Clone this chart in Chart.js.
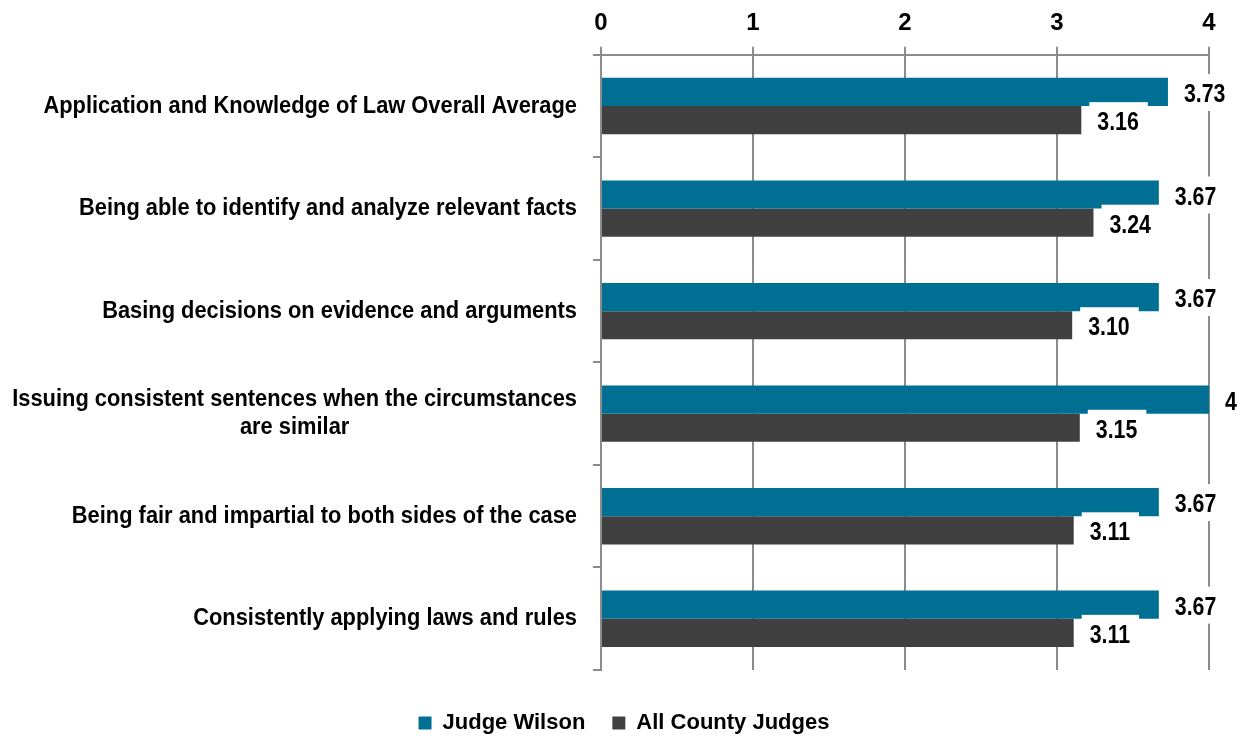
<!DOCTYPE html>
<html>
<head>
<meta charset="utf-8">
<script src="https://cdn.jsdelivr.net/npm/chart.js@4.4.0/dist/chart.umd.min.js"></script>
<style>
    html, body { margin: 0; padding: 0; background: #fff; }
    #wrap { width: 1242px; height: 738px; position: relative; }
</style>
</head>
<body>
<div id="wrap"><canvas id="judgeChart"></canvas></div>
<script>
const categories = [
    'Application and Knowledge of Law Overall Average',
    'Being able to identify and analyze relevant facts',
    'Basing decisions on evidence and arguments',
    ['Issuing consistent sentences when the circumstances', 'are similar'],
    'Being fair and impartial to both sides of the case',
    'Consistently applying laws and rules'
];
const seriesNames = ['Judge Wilson', 'All County Judges'];
const wilsonScores = [3.73, 3.67, 3.67, 4, 3.67, 3.67];
const countyScores = [3.16, 3.24, 3.10, 3.15, 3.11, 3.11];
const xMin = 0;
const xMax = 4;

const FONT = "'Liberation Sans', Arial, sans-serif";
const BLUE = '#006F94';
const GREY = '#404040';
const GRID = '#8C8C8C';
const PAD_LEFT = 39;

function fmt(v) {
    return Number.isInteger(v) ? String(v) : v.toFixed(2);
}

// value labels with a white box behind them; text squeezed a bit to look like a narrow face
const valueLabels = {
    id: 'valueLabels',
    afterDatasetsDraw(chart) {
        const ctx = chart.ctx;
        const sx = 0.82;
        ctx.save();
        ctx.font = 'bold 26px ' + FONT;
        ctx.textBaseline = 'middle';
        ctx.textAlign = 'left';
        chart.data.datasets.forEach((ds, di) => {
            chart.getDatasetMeta(di).data.forEach((bar, i) => {
                const txt = fmt(ds.data[i]);
                const w = ctx.measureText(txt).width * sx;
                const x0 = bar.x + 8;
                ctx.fillStyle = '#fff';
                ctx.fillRect(x0, bar.y - 18, w + 17, 37);
                ctx.save();
                ctx.translate(x0 + 8, bar.y + 3);
                ctx.scale(sx, 1);
                ctx.fillStyle = '#000';
                ctx.fillText(txt, 0, 0);
                ctx.restore();
            });
        });
        ctx.restore();
    }
};

// category labels: block right aligned, lines centred within the block
const categoryLabels = {
    id: 'categoryLabels',
    afterDraw(chart) {
        const ctx = chart.ctx;
        const yScale = chart.scales.y;
        const right = chart.chartArea.left - 24;
        const sx = 0.93;
        const lh = 28;
        ctx.save();
        ctx.font = 'bold 23.5px ' + FONT;
        ctx.fillStyle = '#000';
        ctx.textAlign = 'center';
        ctx.textBaseline = 'middle';
        categories.forEach((label, i) => {
            const lines = Array.isArray(label) ? label : [label];
            const blockW = Math.max(...lines.map(l => ctx.measureText(l).width)) * sx;
            const cx = right - blockW / 2;
            const cy = yScale.getPixelForTick(i);
            lines.forEach((l, k) => {
                ctx.save();
                ctx.translate(cx, cy + (k - (lines.length - 1) / 2) * lh);
                ctx.scale(sx, 1);
                ctx.fillText(l, 0, 0);
                ctx.restore();
            });
        });
        ctx.restore();
    }
};

const ctx = document.getElementById('judgeChart').getContext('2d');
new Chart(ctx, {
    type: 'bar',
    data: {
        labels: categories,
        datasets: [
            {
                label: seriesNames[0],
                data: wilsonScores,
                backgroundColor: BLUE,
                categoryPercentage: 0.55,
                barPercentage: 1.0
            },
            {
                label: seriesNames[1],
                data: countyScores,
                backgroundColor: GREY,
                categoryPercentage: 0.55,
                barPercentage: 1.0
            }
        ]
    },
    options: {
        indexAxis: 'y',
        responsive: true,
        maintainAspectRatio: false,
        animation: false,
        layout: { padding: { top: 0, right: 33, bottom: -6, left: PAD_LEFT } },
        scales: {
            x: {
                position: 'top',
                min: xMin,
                max: xMax,
                ticks: {
                    stepSize: 1,
                    color: '#000',
                    padding: 9,
                    font: { family: FONT, size: 24, weight: 'bold' }
                },
                grid: { color: GRID, lineWidth: 2, tickLength: 8 },
                border: { color: GRID, width: 2 }
            },
            y: {
                afterFit(scale) { scale.width = 601 - PAD_LEFT; },
                ticks: { display: false },
                grid: { color: GRID, lineWidth: 2, tickLength: 8, drawOnChartArea: false, offset: true },
                border: { color: GRID, width: 2 }
            }
        },
        plugins: {
            legend: {
                position: 'bottom',
                title: { display: true, text: '', font: { size: 10 }, padding: { top: 3, bottom: 0 } },
                labels: {
                    boxWidth: 13,
                    boxHeight: 13,
                    padding: 27,
                    color: '#000',
                    font: { family: FONT, size: 22, weight: 'bold' }
                }
            },
            tooltip: { enabled: false }
        }
    },
    plugins: [valueLabels, categoryLabels]
});
</script>
</body>
</html>
